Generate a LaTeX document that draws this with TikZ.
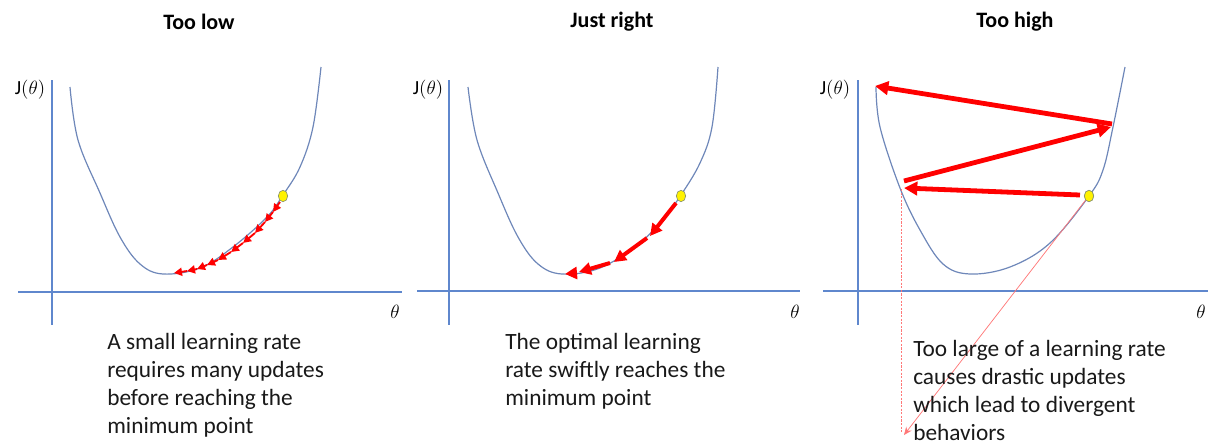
\documentclass[tikz,border=0pt]{standalone}
\usepackage{fontspec}
\setmainfont{Carlito}
\usetikzlibrary{arrows.meta,shapes.geometric}
\definecolor{axisblue}{RGB}{95,135,205}
\definecolor{curveblue}{RGB}{110,135,185}
\definecolor{dotedge}{RGB}{140,150,110}
\definecolor{thinred}{RGB}{255,120,120}
\definecolor{bodytext}{RGB}{25,25,25}
\tikzset{
  axis/.style={draw=axisblue, line width=0.8pt},
  curve/.style={draw=curveblue, line width=0.9pt},
  ydot/.style={ellipse, draw=dotedge, fill=yellow, line width=0.5pt, minimum width=7pt, minimum height=8.5pt, inner sep=0pt},
  tinyarr/.style={draw=red, line width=1.4pt, -{Triangle[length=6pt,width=6pt]}},
  midarr/.style={draw=red, line width=3pt, -{Triangle[length=9pt,width=9pt]}},
  bigarr/.style={draw=red, line width=3.6pt, -{Triangle[length=10pt,width=10pt]}},
  title/.style={font=\fontsize{16.5}{19}\selectfont\bfseries},
  body/.style={font=\fontsize{17.5}{21}\selectfont, text=bodytext, align=left, anchor=north west, inner sep=0pt},
  mathlbl/.style={font=\fontsize{15}{18}\selectfont, inner sep=0pt},
}
\begin{document}
\begin{tikzpicture}[x=0.75pt,y=-0.75pt]
\useasboundingbox (0,0) rectangle (1208,443);
\clip (0,0) rectangle (1208,443);
% titles
\node[title] (t1) at (199,22) {Too low};
\node[title] (t2) at (612,22) {Just right};
\node[title] (t3) at (1015,22) {Too high};

% ---------- panel 1 ----------
\draw[axis] (52,80) -- (52,325);
\draw[axis] (18,292) -- (402,292);
\node[mathlbl] (j1) at (30,90) {$\mathrm{J}(\theta)$};
\node[mathlbl] (th1) at (395,312) {$\theta$};
\draw[curve] plot[smooth, tension=0.6] coordinates {(70,87) (78,140) (100,193) (120,237) (140,264) (163,274) (200,268) (233,247) (267,217) (283,195) (300,167) (313,127) (321,67)};
\coordinate (a0) at (280,202);
\coordinate (a1) at (273,212);
\coordinate (a2) at (265,222);
\coordinate (a3) at (255,233);
\coordinate (a4) at (243,243);
\coordinate (a5) at (231,252);
\coordinate (a6) at (218,260);
\coordinate (a7) at (207,265);
\coordinate (a8) at (197,269);
\coordinate (a9) at (187,271);
\coordinate (a10) at (174,273);
\draw[tinyarr] (a0) -- (a1);
\draw[tinyarr] (a1) -- (a2);
\draw[tinyarr] (a2) -- (a3);
\draw[tinyarr] (a3) -- (a4);
\draw[tinyarr] (a4) -- (a5);
\draw[tinyarr] (a5) -- (a6);
\draw[tinyarr] (a6) -- (a7);
\draw[tinyarr] (a7) -- (a8);
\draw[tinyarr] (a8) -- (a9);
\draw[tinyarr] (a9) -- (a10);
\node[ydot] (dot1) at (283,196) {};
\node[body] (txt1) at (107,333) {A small learning rate\\requires many updates\\before reaching the\\minimum point};

% ---------- panel 2 ----------
\draw[axis] (449,80) -- (449,325);
\draw[axis] (417,291) -- (800,291);
\node[mathlbl] (j2) at (428,90) {$\mathrm{J}(\theta)$};
\node[mathlbl] (th2) at (795,312) {$\theta$};
\draw[curve] plot[smooth, tension=0.6] coordinates {(468,87) (477,140) (498,193) (518,237) (538,264) (562,274) (600,268) (640,243) (666,215) (681,195) (700,163) (712,127) (718,67)};
\coordinate (b0) at (676,203);
\coordinate (b1) at (650,236);
\coordinate (b2) at (647,238);
\coordinate (b3) at (614,262);
\coordinate (b4) at (610,263);
\coordinate (b5) at (579,272);
\coordinate (b6) at (577,273);
\coordinate (b7) at (565,274);
\draw[midarr] (b0) -- (b1);
\draw[midarr] (b2) -- (b3);
\draw[midarr] (b4) -- (b5);
\draw[midarr] (b6) -- (b7);
\node[ydot] (dot2) at (681,196) {};
\node[body] (txt2) at (505,333) {The optimal learning\\rate swiftly reaches the\\minimum point};

% ---------- panel 3 ----------
\draw[axis] (858,80) -- (858,325);
\draw[axis] (823,291) -- (1208,291);
\node[mathlbl] (j3) at (835,90) {$\mathrm{J}(\theta)$};
\node[mathlbl] (th3) at (1201,312) {$\theta$};
\draw[curve] plot[smooth, tension=0.6] coordinates {(876,87) (880,127) (900,188) (920,230) (943,264) (970,274) (1010,267) (1050,243) (1089,196) (1103,170) (1113,127) (1125,67)};
\coordinate (c0) at (1080,195);
\coordinate (c1) at (904,188);
\coordinate (c2) at (904,181);
\coordinate (c3) at (1111,127);
\coordinate (c4) at (1112,124);
\coordinate (c5) at (875,86);
\coordinate (v0) at (901,189);
\coordinate (v1) at (901,432);
\coordinate (e1) at (904,435);
\draw[thinred, line width=0.75pt, dash pattern=on 1.6pt off 1.1pt] (v0) -- (v1);
\node[ydot] (dot3) at (1089,196) {};
\draw[thinred, line width=0.55pt, -{Stealth[length=6pt,width=5pt]}] (dot3.south west) -- (e1);
\draw[bigarr] (c0) -- (c1);
\draw[bigarr] (c2) -- (c3);
\draw[bigarr] (c4) -- (c5);
\node[ydot] (dot3b) at (1089,196) {};
\node[body] (txt3) at (913,340) {Too large of a learning rate\\causes drastic updates\\which lead to divergent\\behaviors};
\end{tikzpicture}
\end{document}
